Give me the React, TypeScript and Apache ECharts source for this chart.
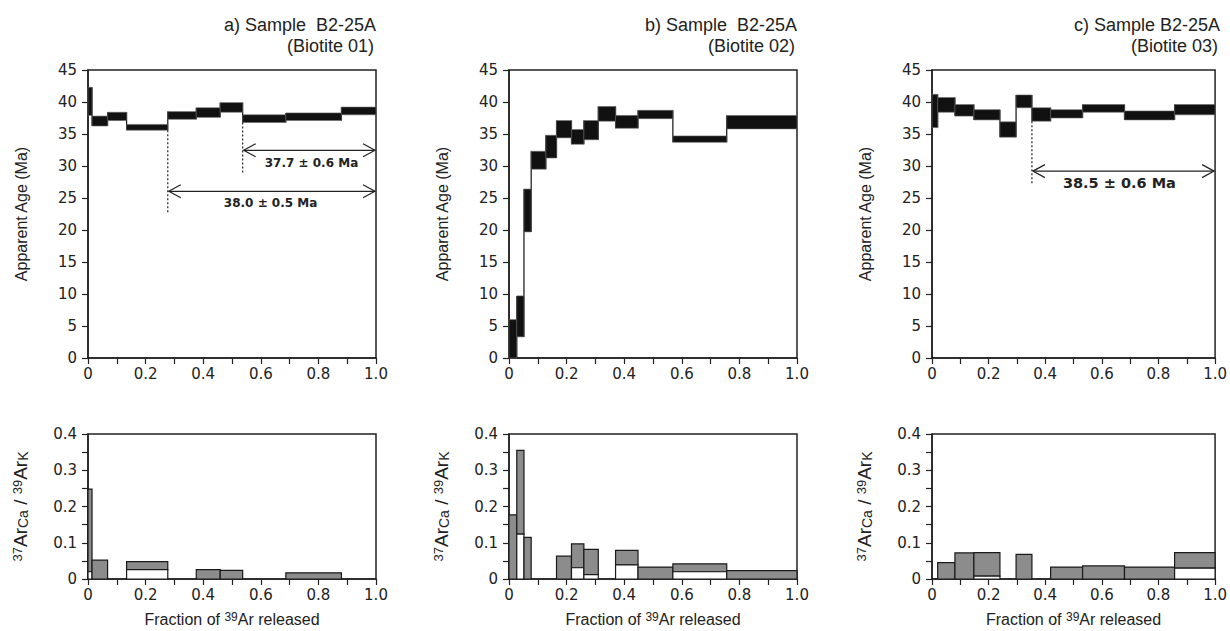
import React, { useEffect, useRef } from 'react';
import * as echarts from 'echarts';

// ---------- Data ----------
// Panel a) Biotite 01
const aEdges = [0, 0.014, 0.068, 0.134, 0.277, 0.376, 0.459, 0.537, 0.687, 0.88, 1.0];
const aAgeLo = [37.9, 36.25, 37.1, 35.6, 37.3, 37.6, 38.4, 36.8, 37.1, 38.0];
const aAgeHi = [42.3, 37.8, 38.4, 36.5, 38.5, 39.1, 39.9, 38.0, 38.3, 39.2];
const aCaLo = [0.02, 0, 0, 0.026, 0, 0, 0, 0, 0, 0];
const aCaHi = [0.248, 0.052, 0, 0.048, 0, 0.026, 0.024, 0, 0.017, 0];

// Panel b) Biotite 02
const bEdges = [0, 0.027, 0.052, 0.077, 0.128, 0.165, 0.217, 0.26, 0.31, 0.37, 0.448, 0.569, 0.756, 1.0];
const bAgeLo = [0, 3.3, 19.7, 29.5, 31.25, 34.4, 33.4, 34.1, 37.0, 35.9, 37.4, 33.7, 35.8];
const bAgeHi = [6.0, 9.7, 26.4, 32.3, 34.8, 37.1, 35.7, 37.1, 39.3, 37.9, 38.7, 34.7, 37.9];
const bCaLo = [0, 0.124, 0, 0, 0, 0, 0.031, 0.012, 0, 0.039, 0, 0.02, 0];
const bCaHi = [0.177, 0.355, 0.115, 0, 0, 0.063, 0.097, 0.082, 0, 0.079, 0.033, 0.042, 0.023];

// Panel c) Biotite 03
const cEdges = [0, 0.02, 0.081, 0.148, 0.24, 0.297, 0.353, 0.419, 0.532, 0.68, 0.857, 1.0];
const cAgeLo = [36.0, 38.4, 37.8, 37.2, 34.5, 39.1, 37.0, 37.5, 38.4, 37.2, 38.0];
const cAgeHi = [41.2, 40.7, 39.6, 38.8, 36.9, 41.1, 39.1, 38.8, 39.6, 38.6, 39.6];
const cCaLo = [0, 0, 0, 0.008, 0, 0, 0, 0, 0, 0, 0.03];
const cCaHi = [0, 0.045, 0.072, 0.073, 0, 0.068, 0, 0.033, 0.036, 0.033, 0.073];

// Plateau annotations: [start fraction, dashed top, dashed bottom, arrow y, label x, label y]
const aPlateaus = [
  [0.277, 35.6, 22.6, 26.05, 0.634, 24.2],
  [0.537, 36.8, 29.0, 32.45, 0.776, 30.4],
];
const aPlateauLabels = ['38.0 ± 0.5 Ma', '37.7 ± 0.6 Ma'];
const bPlateaus: number[][] = [];
const bPlateauLabels: string[] = [];
const cPlateaus = [[0.353, 37.0, 27.2, 29.2, 0.662, 27.3]];
const cPlateauLabels = ['38.5 ± 0.6 Ma'];

const titles = ['a) Sample  B2-25A', 'b) Sample  B2-25A', 'c) Sample B2-25A'];
const subtitles = ['(Biotite 01)', '(Biotite 02)', '(Biotite 03)'];

// ---------- Layout / style ----------
const LEFTS = [88, 509, 932];
const W = 288;
const TOP_T = 70, TOP_H = 288;
const BOT_T = 434, BOT_H = 145;
const INK = '#222';
const TICK_FONT = '"DejaVu Sans", Verdana, sans-serif';
const SANS = '"Liberation Sans", Arial, Helvetica, sans-serif';
const PLATEAU_FONT_SIZE = [12, 12, 14.5];

const panels = [
  { edges: aEdges, lo: aAgeLo, hi: aAgeHi, caLo: aCaLo, caHi: aCaHi, pl: aPlateaus, pll: aPlateauLabels },
  { edges: bEdges, lo: bAgeLo, hi: bAgeHi, caLo: bCaLo, caHi: bCaHi, pl: bPlateaus, pll: bPlateauLabels },
  { edges: cEdges, lo: cAgeLo, hi: cAgeHi, caLo: cCaLo, caHi: cCaHi, pl: cPlateaus, pll: cPlateauLabels },
];

const fracFmt = (v: number) => {
  const k = Math.round(v * 10);
  if (k % 2 !== 0) return '';
  return k === 0 ? '0' : (k / 10).toFixed(1);
};
const caFmt = (v: number) => {
  const k = Math.round(v * 20);
  if (k % 2 !== 0) return '';
  return k === 0 ? '0' : (k / 20).toFixed(1);
};

const richX = {
  n: { fontSize: 16, fontFamily: SANS, color: INK, verticalAlign: 'bottom' },
  sup: { fontSize: 12, fontFamily: SANS, color: INK, verticalAlign: 'top' },
};
const richCa = {
  n: { fontSize: 19, fontFamily: SANS, color: INK, verticalAlign: 'bottom' },
  sup: { fontSize: 13, fontFamily: SANS, color: INK, verticalAlign: 'top' },
  sub: { fontSize: 14, fontFamily: SANS, color: INK, verticalAlign: 'bottom' },
};

function xAxisCfg(gridIndex: number, withName: boolean) {
  return {
    gridIndex,
    type: 'value',
    min: 0,
    max: 1,
    interval: 0.1,
    axisLine: { onZero: false, lineStyle: { color: INK, width: 1.5 } },
    axisTick: { length: 6, lineStyle: { color: INK, width: 1.2 } },
    axisLabel: { formatter: fracFmt, margin: 8, fontSize: 15, fontFamily: TICK_FONT, color: INK },
    splitLine: { show: false },
    name: withName ? '{n|Fraction of }{sup|39}{n|Ar released}' : '',
    nameLocation: 'middle',
    nameGap: 32,
    nameTextStyle: { rich: richX },
  };
}

function yAxisTop(gridIndex: number) {
  return {
    gridIndex,
    type: 'value',
    min: 0,
    max: 45,
    interval: 5,
    axisLine: { onZero: false, lineStyle: { color: INK, width: 1.5 } },
    axisTick: { length: 6, lineStyle: { color: INK, width: 1.2 } },
    axisLabel: { margin: 11, fontSize: 15, fontFamily: TICK_FONT, color: INK },
    splitLine: { show: false },
    name: 'Apparent Age (Ma)',
    nameLocation: 'middle',
    nameGap: 59,
    nameRotate: 90,
    nameTextStyle: { fontSize: 16, fontFamily: SANS, color: INK },
  };
}

function yAxisBot(gridIndex: number) {
  return {
    gridIndex,
    type: 'value',
    min: 0,
    max: 0.4,
    interval: 0.05,
    axisLine: { onZero: false, lineStyle: { color: INK, width: 1.5 } },
    axisTick: { length: 6, lineStyle: { color: INK, width: 1.2 } },
    axisLabel: { formatter: caFmt, margin: 11, fontSize: 15, fontFamily: TICK_FONT, color: INK },
    splitLine: { show: false },
    name: '{sup|37}{n|Ar}{sub|Ca}{n| / }{sup|39}{n|Ar}{sub|K}',
    nameLocation: 'middle',
    nameGap: 58,
    nameRotate: 90,
    nameTextStyle: { rich: richCa },
  };
}

function buildOption() {
  const grids: any[] = [];
  const xAxes: any[] = [];
  const yAxes: any[] = [];
  const series: any[] = [];
  const graphics: any[] = [];

  panels.forEach((p, i) => {
    const left = LEFTS[i];
    const gTop = i * 2;
    const gBot = i * 2 + 1;
    grids.push({ left, top: TOP_T, width: W, height: TOP_H, show: true, borderColor: INK, borderWidth: 1.5, backgroundColor: 'transparent' });
    grids.push({ left, top: BOT_T, width: W, height: BOT_H, show: true, borderColor: INK, borderWidth: 1.5, backgroundColor: 'transparent' });
    xAxes.push(xAxisCfg(gTop, false));
    xAxes.push(xAxisCfg(gBot, true));
    yAxes.push(yAxisTop(gTop));
    yAxes.push(yAxisBot(gBot));

    const n = p.lo.length;
    const boxData: number[][] = [];
    for (let k = 0; k < n; k++) boxData.push([p.edges[k], p.edges[k + 1], p.lo[k], p.hi[k]]);
    const connData: number[][] = [];
    for (let k = 0; k < n - 1; k++) {
      connData.push([p.edges[k + 1], Math.min(p.lo[k], p.lo[k + 1]), Math.max(p.hi[k], p.hi[k + 1])]);
    }
    const caData: number[][] = [];
    for (let k = 0; k < n; k++) {
      if (p.caHi[k] > 0) caData.push([p.edges[k], p.edges[k + 1], p.caLo[k], p.caHi[k]]);
    }

    // connectors between steps
    series.push({
      type: 'custom',
      xAxisIndex: gTop,
      yAxisIndex: gTop,
      data: connData,
      encode: { x: 0, y: [1, 2] },
      clip: false,
      silent: true,
      renderItem: (params: any, api: any) => {
        const a = api.coord([api.value(0), api.value(1)]);
        const b = api.coord([api.value(0), api.value(2)]);
        return {
          type: 'line',
          shape: { x1: a[0], y1: a[1], x2: b[0], y2: b[1] },
          style: { stroke: '#111', lineWidth: 1.2 },
        };
      },
    });
    // age step boxes
    series.push({
      type: 'custom',
      xAxisIndex: gTop,
      yAxisIndex: gTop,
      data: boxData,
      encode: { x: [0, 1], y: [2, 3] },
      clip: false,
      silent: true,
      renderItem: (params: any, api: any) => {
        const p0 = api.coord([api.value(0), api.value(3)]);
        const p1 = api.coord([api.value(1), api.value(2)]);
        return {
          type: 'rect',
          shape: { x: p0[0], y: p0[1], width: p1[0] - p0[0], height: p1[1] - p0[1] },
          style: { fill: '#111', stroke: '#666', lineWidth: 0.6 },
        };
      },
    });
    // Ca/K boxes
    series.push({
      type: 'custom',
      xAxisIndex: gBot,
      yAxisIndex: gBot,
      data: caData,
      encode: { x: [0, 1], y: [2, 3] },
      clip: false,
      silent: true,
      renderItem: (params: any, api: any) => {
        const x0 = api.value(0), x1 = api.value(1), lo = api.value(2), hi = api.value(3);
        const pHi0 = api.coord([x0, hi]);
        const pLo1 = api.coord([x1, lo]);
        const pZero = api.coord([x1, 0]);
        const children: any[] = [
          {
            type: 'rect',
            shape: { x: pHi0[0], y: pHi0[1], width: pLo1[0] - pHi0[0], height: pLo1[1] - pHi0[1] },
            style: { fill: '#8c8c8c', stroke: '#1a1a1a', lineWidth: 1.2 },
          },
        ];
        if (lo > 0) {
          children.push({
            type: 'rect',
            shape: { x: pHi0[0], y: pLo1[1], width: pLo1[0] - pHi0[0], height: pZero[1] - pLo1[1] },
            style: { fill: '#fff', stroke: '#1a1a1a', lineWidth: 1.2 },
          });
        }
        return { type: 'group', children };
      },
    });
    // plateau annotations
    if (p.pl.length) {
      const labels = p.pll;
      const fs = PLATEAU_FONT_SIZE[i];
      series.push({
        type: 'custom',
        xAxisIndex: gTop,
        yAxisIndex: gTop,
        data: p.pl,
        encode: { x: [0, 4], y: [1, 2] },
        clip: false,
        silent: true,
        renderItem: (params: any, api: any) => {
          const xs = api.value(0), dt = api.value(1), db = api.value(2), ay = api.value(3), lx = api.value(4), ly = api.value(5);
          const pt = api.coord([xs, dt]);
          const pb = api.coord([xs, db]);
          const a0 = api.coord([xs, ay]);
          const a1 = api.coord([1, ay]);
          const pl = api.coord([lx, ly]);
          const st = { stroke: INK, lineWidth: 1.2, fill: null };
          return {
            type: 'group',
            children: [
              { type: 'line', shape: { x1: pt[0], y1: pt[1], x2: pb[0], y2: pb[1] }, style: { stroke: INK, lineWidth: 1.2, lineDash: [2, 2] } },
              { type: 'line', shape: { x1: a0[0] + 1, y1: a0[1], x2: a1[0] - 1, y2: a1[1] }, style: { stroke: INK, lineWidth: 1.2 } },
              { type: 'polyline', shape: { points: [[a0[0] + 13, a0[1] - 6.5], [a0[0] + 1, a0[1]], [a0[0] + 13, a0[1] + 6.5]] }, style: st },
              { type: 'polyline', shape: { points: [[a1[0] - 13, a1[1] - 6.5], [a1[0] - 1, a1[1]], [a1[0] - 13, a1[1] + 6.5]] }, style: st },
              {
                type: 'text',
                x: pl[0],
                y: pl[1],
                style: {
                  text: labels[params.dataIndex],
                  fill: INK,
                  font: `bold ${fs}px "DejaVu Sans", Verdana, sans-serif`,
                  align: 'center',
                  verticalAlign: 'middle',
                  textAlign: 'center',
                  textVerticalAlign: 'middle',
                },
              },
            ],
          };
        },
      });
    }

    // titles
    const right = left + W;
    graphics.push({
      type: 'text',
      x: right,
      y: 25,
      style: { text: titles[i], font: `18px ${SANS}`, fill: INK, align: 'right', verticalAlign: 'middle' },
    });
    graphics.push({
      type: 'text',
      x: right - 2,
      y: 46,
      style: { text: subtitles[i], font: `18px ${SANS}`, fill: INK, align: 'right', verticalAlign: 'middle' },
    });
  });

  return {
    animation: false,
    backgroundColor: '#fff',
    grid: grids,
    xAxis: xAxes,
    yAxis: yAxes,
    series,
    graphic: graphics,
  };
}

export default function App() {
  const ref = useRef<HTMLDivElement>(null);
  useEffect(() => {
    if (!ref.current) return;
    const chart = echarts.init(ref.current, undefined, { renderer: 'svg' });
    chart.setOption(buildOption() as any);
    return () => chart.dispose();
  }, []);
  return (
    <div
      ref={ref}
      style={{ position: 'fixed', left: 0, top: 0, width: 1230, height: 631, background: '#fff' }}
    />
  );
}
